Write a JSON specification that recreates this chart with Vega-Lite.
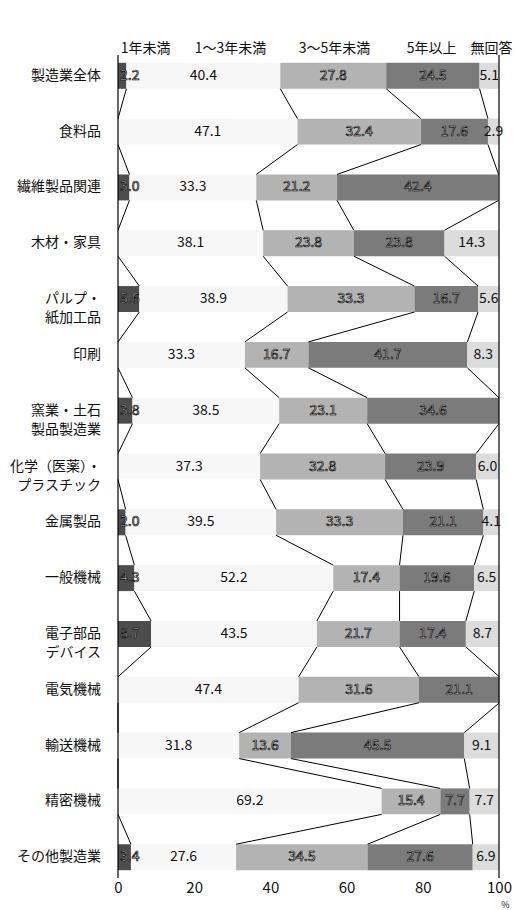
{
  "$schema": "https://vega.github.io/schema/vega-lite/v6.json",
  "width": 381,
  "height": 823,
  "autosize": {"type": "none"},
  "padding": {"left": 118, "top": 55, "right": 17, "bottom": 32},
  "background": "white",
  "config": {"view": {"stroke": null}, "font": "Noto Sans CJK JP", "axis": {"grid": false}},
  "data": {"values": [
    {"c": "製造業全体", "r": 1, "s": "1年未満", "k": 1, "v": 2.2},
    {"c": "製造業全体", "r": 1, "s": "1～3年未満", "k": 2, "v": 40.4},
    {"c": "製造業全体", "r": 1, "s": "3～5年未満", "k": 3, "v": 27.8},
    {"c": "製造業全体", "r": 1, "s": "5年以上", "k": 4, "v": 24.5},
    {"c": "製造業全体", "r": 1, "s": "無回答", "k": 5, "v": 5.1},
    {"c": "食料品", "r": 2, "s": "1年未満", "k": 1, "v": 0},
    {"c": "食料品", "r": 2, "s": "1～3年未満", "k": 2, "v": 47.1},
    {"c": "食料品", "r": 2, "s": "3～5年未満", "k": 3, "v": 32.4},
    {"c": "食料品", "r": 2, "s": "5年以上", "k": 4, "v": 17.6},
    {"c": "食料品", "r": 2, "s": "無回答", "k": 5, "v": 2.9},
    {"c": "繊維製品関連", "r": 3, "s": "1年未満", "k": 1, "v": 3.0},
    {"c": "繊維製品関連", "r": 3, "s": "1～3年未満", "k": 2, "v": 33.3},
    {"c": "繊維製品関連", "r": 3, "s": "3～5年未満", "k": 3, "v": 21.2},
    {"c": "繊維製品関連", "r": 3, "s": "5年以上", "k": 4, "v": 42.4},
    {"c": "繊維製品関連", "r": 3, "s": "無回答", "k": 5, "v": 0},
    {"c": "木材・家具", "r": 4, "s": "1年未満", "k": 1, "v": 0},
    {"c": "木材・家具", "r": 4, "s": "1～3年未満", "k": 2, "v": 38.1},
    {"c": "木材・家具", "r": 4, "s": "3～5年未満", "k": 3, "v": 23.8},
    {"c": "木材・家具", "r": 4, "s": "5年以上", "k": 4, "v": 23.8},
    {"c": "木材・家具", "r": 4, "s": "無回答", "k": 5, "v": 14.3},
    {"c": "パルプ・\n紙加工品", "r": 5, "s": "1年未満", "k": 1, "v": 5.6},
    {"c": "パルプ・\n紙加工品", "r": 5, "s": "1～3年未満", "k": 2, "v": 38.9},
    {"c": "パルプ・\n紙加工品", "r": 5, "s": "3～5年未満", "k": 3, "v": 33.3},
    {"c": "パルプ・\n紙加工品", "r": 5, "s": "5年以上", "k": 4, "v": 16.7},
    {"c": "パルプ・\n紙加工品", "r": 5, "s": "無回答", "k": 5, "v": 5.6},
    {"c": "印刷", "r": 6, "s": "1年未満", "k": 1, "v": 0},
    {"c": "印刷", "r": 6, "s": "1～3年未満", "k": 2, "v": 33.3},
    {"c": "印刷", "r": 6, "s": "3～5年未満", "k": 3, "v": 16.7},
    {"c": "印刷", "r": 6, "s": "5年以上", "k": 4, "v": 41.7},
    {"c": "印刷", "r": 6, "s": "無回答", "k": 5, "v": 8.3},
    {"c": "窯業・土石\n製品製造業", "r": 7, "s": "1年未満", "k": 1, "v": 3.8},
    {"c": "窯業・土石\n製品製造業", "r": 7, "s": "1～3年未満", "k": 2, "v": 38.5},
    {"c": "窯業・土石\n製品製造業", "r": 7, "s": "3～5年未満", "k": 3, "v": 23.1},
    {"c": "窯業・土石\n製品製造業", "r": 7, "s": "5年以上", "k": 4, "v": 34.6},
    {"c": "窯業・土石\n製品製造業", "r": 7, "s": "無回答", "k": 5, "v": 0},
    {"c": "化学（医薬）・\nプラスチック", "r": 8, "s": "1年未満", "k": 1, "v": 0},
    {"c": "化学（医薬）・\nプラスチック", "r": 8, "s": "1～3年未満", "k": 2, "v": 37.3},
    {"c": "化学（医薬）・\nプラスチック", "r": 8, "s": "3～5年未満", "k": 3, "v": 32.8},
    {"c": "化学（医薬）・\nプラスチック", "r": 8, "s": "5年以上", "k": 4, "v": 23.9},
    {"c": "化学（医薬）・\nプラスチック", "r": 8, "s": "無回答", "k": 5, "v": 6.0},
    {"c": "金属製品", "r": 9, "s": "1年未満", "k": 1, "v": 2.0},
    {"c": "金属製品", "r": 9, "s": "1～3年未満", "k": 2, "v": 39.5},
    {"c": "金属製品", "r": 9, "s": "3～5年未満", "k": 3, "v": 33.3},
    {"c": "金属製品", "r": 9, "s": "5年以上", "k": 4, "v": 21.1},
    {"c": "金属製品", "r": 9, "s": "無回答", "k": 5, "v": 4.1},
    {"c": "一般機械", "r": 10, "s": "1年未満", "k": 1, "v": 4.3},
    {"c": "一般機械", "r": 10, "s": "1～3年未満", "k": 2, "v": 52.2},
    {"c": "一般機械", "r": 10, "s": "3～5年未満", "k": 3, "v": 17.4},
    {"c": "一般機械", "r": 10, "s": "5年以上", "k": 4, "v": 19.6},
    {"c": "一般機械", "r": 10, "s": "無回答", "k": 5, "v": 6.5},
    {"c": "電子部品\nデバイス", "r": 11, "s": "1年未満", "k": 1, "v": 8.7},
    {"c": "電子部品\nデバイス", "r": 11, "s": "1～3年未満", "k": 2, "v": 43.5},
    {"c": "電子部品\nデバイス", "r": 11, "s": "3～5年未満", "k": 3, "v": 21.7},
    {"c": "電子部品\nデバイス", "r": 11, "s": "5年以上", "k": 4, "v": 17.4},
    {"c": "電子部品\nデバイス", "r": 11, "s": "無回答", "k": 5, "v": 8.7},
    {"c": "電気機械", "r": 12, "s": "1年未満", "k": 1, "v": 0},
    {"c": "電気機械", "r": 12, "s": "1～3年未満", "k": 2, "v": 47.4},
    {"c": "電気機械", "r": 12, "s": "3～5年未満", "k": 3, "v": 31.6},
    {"c": "電気機械", "r": 12, "s": "5年以上", "k": 4, "v": 21.1},
    {"c": "電気機械", "r": 12, "s": "無回答", "k": 5, "v": 0},
    {"c": "輸送機械", "r": 13, "s": "1年未満", "k": 1, "v": 0},
    {"c": "輸送機械", "r": 13, "s": "1～3年未満", "k": 2, "v": 31.8},
    {"c": "輸送機械", "r": 13, "s": "3～5年未満", "k": 3, "v": 13.6},
    {"c": "輸送機械", "r": 13, "s": "5年以上", "k": 4, "v": 45.5},
    {"c": "輸送機械", "r": 13, "s": "無回答", "k": 5, "v": 9.1},
    {"c": "精密機械", "r": 14, "s": "1年未満", "k": 1, "v": 0},
    {"c": "精密機械", "r": 14, "s": "1～3年未満", "k": 2, "v": 69.2},
    {"c": "精密機械", "r": 14, "s": "3～5年未満", "k": 3, "v": 15.4},
    {"c": "精密機械", "r": 14, "s": "5年以上", "k": 4, "v": 7.7},
    {"c": "精密機械", "r": 14, "s": "無回答", "k": 5, "v": 7.7},
    {"c": "その他製造業", "r": 15, "s": "1年未満", "k": 1, "v": 3.4},
    {"c": "その他製造業", "r": 15, "s": "1～3年未満", "k": 2, "v": 27.6},
    {"c": "その他製造業", "r": 15, "s": "3～5年未満", "k": 3, "v": 34.5},
    {"c": "その他製造業", "r": 15, "s": "5年以上", "k": 4, "v": 27.6},
    {"c": "その他製造業", "r": 15, "s": "無回答", "k": 5, "v": 6.9}
  ]},
  "layer": [
    {
      "mark": {"type": "bar"},
      "encoding": {
        "x": {"field": "v", "type": "quantitative", "stack": "zero",
          "scale": {"domain": [0, 100], "nice": false},
          "axis": {"orient": "bottom", "values": [0, 20, 40, 60, 80, 100], "domain": false, "ticks": false,
            "labelFontSize": 15, "labelColor": "#111", "labelPadding": 2, "labelFlush": false, "labelOverlap": false,
            "title": "%", "titleFontSize": 9, "titleFontWeight": "normal", "titleColor": "#111", "titleX": 387, "titleY": 26, "titleBaseline": "middle", "titleAlign": "center"}},
        "y": {"field": "c", "type": "nominal",
          "scale": {"domain": ["製造業全体", "食料品", "繊維製品関連", "木材・家具", "パルプ・\n紙加工品", "印刷", "窯業・土石\n製品製造業", "化学（医薬）・\nプラスチック", "金属製品", "一般機械", "電子部品\nデバイス", "電気機械", "輸送機械", "精密機械", "その他製造業"], "paddingInner": 0.535, "paddingOuter": 0.14},
          "axis": null},
        "color": {"field": "s", "type": "nominal", "legend": null,
          "scale": {"domain": ["1年未満", "1～3年未満", "3～5年未満", "5年以上", "無回答"], "range": ["#4d4d4d", "#f7f7f7", "#b3b3b3", "#7b7b7b", "#dcdcdc"]}},
        "order": {"field": "k", "type": "quantitative"}
      }
    },
    {
      "data": {"values": [{}]},
      "mark": {"type": "rule", "color": "#000", "strokeWidth": 1.2},
      "encoding": {
        "x": {"datum": 100, "type": "quantitative",
          "axis": {"orient": "top", "values": [7.1, 29.4, 56.7, 82.2, 97.9], "domain": false, "ticks": false, "labelFontSize": 14, "labelColor": "#111", "labelPadding": 0, "labelFlush": false, "labelOverlap": false, "title": null,
            "labelExpr": "datum.value < 10 ? '1年未満' : datum.value < 40 ? '1～3年未満' : datum.value < 70 ? '3～5年未満' : datum.value < 90 ? '5年以上' : '無回答'"}}
      }
    },
    {
      "data": {"values": [{}]},
      "mark": {"type": "rule", "color": "#000", "strokeWidth": 1.2},
      "encoding": {
        "x": {"datum": 0, "type": "quantitative", "axis": null}
      }
    },
    {
      "transform": [
        {"window": [{"op": "sum", "field": "v", "as": "cum"}], "groupby": ["c"], "sort": [{"field": "k"}]},
        {"window": [{"op": "lead", "field": "cum", "as": "cum2"}, {"op": "lead", "field": "c", "as": "c2"}], "groupby": ["k"], "sort": [{"field": "r"}]},
        {"filter": "datum.c2 != null && datum.k < 5"}
      ],
      "mark": {"type": "rule", "color": "#000", "strokeWidth": 1},
      "encoding": {
        "x": {"field": "cum", "type": "quantitative", "axis": null},
        "x2": {"field": "cum2"},
        "y": {"field": "c", "type": "nominal", "bandPosition": 1, "axis": null},
        "y2": {"field": "c2", "bandPosition": 0}
      }
    },
    {
      "transform": [{"filter": "datum.k == 1"}],
      "mark": {"type": "text", "align": "right", "baseline": "middle", "dx": -17, "fontSize": 14, "lineHeight": 19, "lineBreak": "\n", "fill": "#111"},
      "encoding": {
        "x": {"datum": 0, "type": "quantitative", "axis": null},
        "y": {"field": "c", "type": "nominal", "axis": null},
        "text": {"field": "c"}
      }
    },
    {
      "mark": {"type": "text", "align": "left", "baseline": "middle", "dx": 2, "fontSize": 14, "fill": "white", "stroke": "#000", "strokeWidth": 0.7},
      "encoding": {
        "x": {"field": "v", "type": "quantitative", "stack": "zero", "bandPosition": 0, "axis": null},
        "y": {"field": "c", "type": "nominal", "axis": null},
        "detail": {"field": "s"},
        "order": {"field": "k", "type": "quantitative"},
        "text": {"condition": {"test": "datum.k == 1 && datum.v > 0", "field": "v", "type": "quantitative", "format": ".1f"}, "value": ""}
      }
    },
    {
      "mark": {"type": "text", "align": "center", "baseline": "middle", "fontSize": 14, "fill": "#111"},
      "encoding": {
        "x": {"field": "v", "type": "quantitative", "stack": "zero", "bandPosition": 0.5, "axis": null},
        "y": {"field": "c", "type": "nominal", "axis": null},
        "detail": {"field": "s"},
        "order": {"field": "k", "type": "quantitative"},
        "text": {"condition": {"test": "(datum.k == 2 || datum.k == 5) && datum.v > 0", "field": "v", "type": "quantitative", "format": ".1f"}, "value": ""}
      }
    },
    {
      "mark": {"type": "text", "align": "center", "baseline": "middle", "fontSize": 14, "fill": "white", "stroke": "#000", "strokeWidth": 0.7},
      "encoding": {
        "x": {"field": "v", "type": "quantitative", "stack": "zero", "bandPosition": 0.5, "axis": null},
        "y": {"field": "c", "type": "nominal", "axis": null},
        "detail": {"field": "s"},
        "order": {"field": "k", "type": "quantitative"},
        "text": {"condition": {"test": "(datum.k == 3 || datum.k == 4) && datum.v > 0", "field": "v", "type": "quantitative", "format": ".1f"}, "value": ""}
      }
    }
  ]
}
